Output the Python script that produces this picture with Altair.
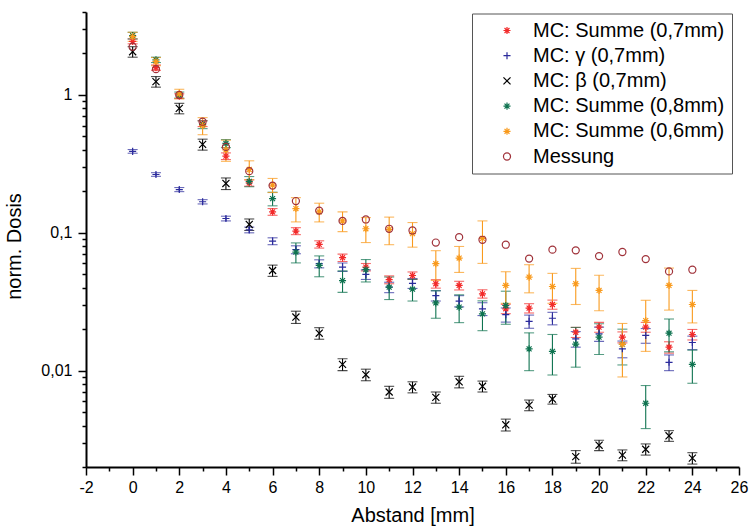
import altair as alt
import pandas as pd

# ---------------- data ----------------
abstand = list(range(0, 25))

summe07 = [2.45, 1.58, 0.98, 0.62, 0.36, 0.23, 0.142, 0.103, 0.0825, 0.066, 0.0564, 0.0457, 0.049,
           0.0427, 0.0415, 0.0361, 0.0281, 0.0284, 0.0302, 0.019, 0.0207, 0.0175, 0.0207, 0.0148, 0.0183]
summe07_err = [0.1, 0.07, 0.04, 0.03, 0.02, 0.012, 0.008, 0.006, 0.005, 0.004, 0.0035, 0.003, 0.003,
               0.003, 0.003, 0.0025, 0.0022, 0.0022, 0.0023, 0.0016, 0.0017, 0.0016, 0.0017, 0.0014, 0.0016]

gamma07 = [0.39, 0.265, 0.206, 0.168, 0.127, 0.105, 0.087, 0.0755, 0.0597, 0.0564, 0.0499, 0.0403, 0.043,
           0.035, 0.032, 0.0281, 0.0255, 0.0228, 0.024, 0.017, 0.0185, 0.0144, 0.018, 0.0115, 0.016]
gamma07_err = [0.012, 0.008, 0.007, 0.006, 0.005, 0.005, 0.005, 0.005, 0.004, 0.004, 0.004, 0.0035, 0.0035,
               0.003, 0.003, 0.003, 0.003, 0.0025, 0.0025, 0.0022, 0.0022, 0.002, 0.0022, 0.0015, 0.0018]

beta07 = [2.06, 1.25, 0.80, 0.438, 0.228, 0.115, 0.0533, 0.0245, 0.0187, 0.0111, 0.00935, 0.0070, 0.0076,
          0.0064, 0.0083, 0.0077, 0.00405, 0.00562, 0.00622, 0.00238, 0.00288, 0.00244, 0.00269, 0.00337, 0.00232]
beta07_err = [0.18, 0.11, 0.07, 0.04, 0.022, 0.011, 0.005, 0.0025, 0.0018, 0.0011, 0.0009, 0.0007, 0.0007,
              0.0006, 0.0008, 0.0007, 0.0004, 0.0005, 0.0005, 0.00025, 0.00025, 0.00022, 0.00025, 0.0003, 0.00022]

summe08 = [2.7, 1.8, 1.0, 0.61, 0.445, 0.236, 0.177, 0.0725, 0.058, 0.045, 0.054, 0.0403, 0.039,
           0.031, 0.0289, 0.0258, 0.0297, 0.0144, 0.0138, 0.0156, 0.0175, 0.0155, 0.0058, 0.0187, 0.0111]
summe08_err = [0.15, 0.08, 0.05, 0.04, 0.03, 0.02, 0.02, 0.012, 0.01, 0.008, 0.01, 0.0075, 0.007,
               0.007, 0.0066, 0.0063, 0.008, 0.0044, 0.0045, 0.005, 0.0044, 0.0045, 0.002, 0.005, 0.003]

summe06 = [2.65, 1.75, 1.02, 0.60, 0.40, 0.288, 0.222, 0.150, 0.142, 0.122, 0.107, 0.106, 0.0987,
           0.0597, 0.0656, 0.091, 0.0415, 0.0477, 0.0408, 0.0427, 0.0382, 0.0155, 0.0231, 0.0415, 0.0302]
summe06_err = [0.2, 0.12, 0.08, 0.085, 0.07, 0.045, 0.026, 0.03, 0.022, 0.02, 0.022, 0.024, 0.02,
               0.0145, 0.014, 0.031, 0.0107, 0.011, 0.010, 0.0125, 0.011, 0.0065, 0.0093, 0.014, 0.008]

messung = [2.24, 1.54, 1.00, 0.64, 0.42, 0.28, 0.22, 0.170, 0.145, 0.122, 0.125, 0.107, 0.104,
           0.085, 0.093, 0.089, 0.082, 0.065, 0.0755, 0.0746, 0.0678, 0.0726, 0.0645, 0.0525, 0.054]

series_names = ["MC: Summe (0,7mm)", "MC: γ (0,7mm)", "MC: β (0,7mm)",
                "MC: Summe (0,8mm)", "MC: Summe (0,6mm)", "Messung"]
series_colors = ["#f22a2a", "#2b2b9c", "#000000", "#0f7350", "#f99a1c", "#a0323a"]

STAR = "M-1,0L1,0M0,-1L0,1M-0.7,-0.7L0.7,0.7M-0.7,0.7L0.7,-0.7"
PLUS = "M-1,0L1,0M0,-1L0,1"
XMRK = "M-1,-1L1,1M-1,1L1,-1"
series_shapes = [STAR, PLUS, XMRK, STAR, STAR, "circle"]
series_sizes = [50, 50, 49, 50, 50, 115]

# ---------------- long table ----------------
values = [summe07, gamma07, beta07, summe08, summe06, messung]
errors = [summe07_err, gamma07_err, beta07_err, summe08_err, summe06_err, None]
rows = []
for name, vals, errs in zip(series_names, values, errors):
    for i, x in enumerate(abstand):
        e = errs[i] if errs is not None else None
        rows.append({"x": x, "val": vals[i], "series": name,
                     "lo": (vals[i] - e) if e is not None else None,
                     "hi": (vals[i] + e) if e is not None else None})
df = pd.DataFrame(rows)

x_ticks = list(range(-2, 27))
y_ticks = []
for dec in [0.001, 0.01, 0.1, 1.0]:
    for m in range(1, 10):
        v = round(m * dec, 6)
        if 0.002 <= v <= 4:
            y_ticks.append(v)

FONT = "Liberation Sans"

xscale = alt.Scale(domain=[-2, 26], nice=False, zero=False)
yscale = alt.Scale(type="log", domain=[0.002, 4], nice=False)

xaxis = alt.Axis(
    title="Abstand [mm]", values=x_ticks,
    labelExpr="datum.value % 2 == 0 ? toString(datum.value) : ''",
    tickSize={"condition": {"test": "datum.value % 2 != 0", "value": 4}, "value": 8},
    labelFlush=False, labelOverlap=False, grid=False, labelPadding=4, titlePadding=10,
)
yaxis = alt.Axis(
    title="norm. Dosis", values=y_ticks,
    labelExpr="datum.value == 0.01 ? '0,01' : datum.value == 0.1 ? '0,1' : datum.value == 1 ? '1' : ''",
    tickSize={"condition": {"test": "datum.value == 0.01 || datum.value == 0.1 || datum.value == 1",
                            "value": 8}, "value": 4},
    labelFlush=False, labelOverlap=False, grid=False, labelPadding=6, titlePadding=16,
    titleY=234,
)

X = alt.X("x:Q", scale=xscale, axis=xaxis)

layers = []
# error bars: one set of layers per MC series, constant colour (no scale involved)
for name, col in zip(series_names[:5], series_colors[:5]):
    sub = df[df["series"] == name]
    layers.append(alt.Chart(sub).mark_rule(color=col, strokeWidth=1.1).encode(
        x=X, y=alt.Y("lo:Q", scale=yscale, axis=yaxis), y2="hi:Q"))
    for fld in ["lo", "hi"]:
        layers.append(alt.Chart(sub).mark_tick(color=col, orient="horizontal", size=10, thickness=1.1).encode(
            x=X, y=alt.Y(f"{fld}:Q", scale=yscale, axis=yaxis)))

legend = alt.Legend(
    title=None, orient="none", legendX=386, legendY=1.5,
    labelFont=FONT, labelFontSize=20, labelColor="#000", labelLimit=0,
    strokeColor="#555", fillColor="#ffffff", padding=7,
    symbolOffset=18, labelOffset=16, rowPadding=5.2, symbolStrokeWidth=1.2,
)
points = alt.Chart(df).mark_point(filled=False, strokeWidth=1.2, opacity=1).encode(
    x=X,
    y=alt.Y("val:Q", scale=yscale, axis=yaxis),
    color=alt.Color("series:N", scale=alt.Scale(domain=series_names, range=series_colors), legend=legend),
    shape=alt.Shape("series:N", scale=alt.Scale(domain=series_names, range=series_shapes), legend=legend),
    size=alt.Size("series:N", scale=alt.Scale(domain=series_names, range=series_sizes), legend=legend),
)
layers.append(points)

chart = alt.layer(*layers).properties(
    width=653, height=455,
    autosize=alt.AutoSizeParams(type="none"),
    padding={"left": 86, "top": 12, "right": 12, "bottom": 64},
).configure_view(stroke=None).configure_axis(
    labelFont=FONT, labelFontSize=16, labelColor="#000",
    titleFont=FONT, titleFontSize=20, titleFontWeight="normal", titleColor="#000",
    domainColor="#000", domainWidth=2, tickColor="#000", tickWidth=1.5,
)

chart.save("out.html", embed_options={"renderer": "svg", "actions": False})
